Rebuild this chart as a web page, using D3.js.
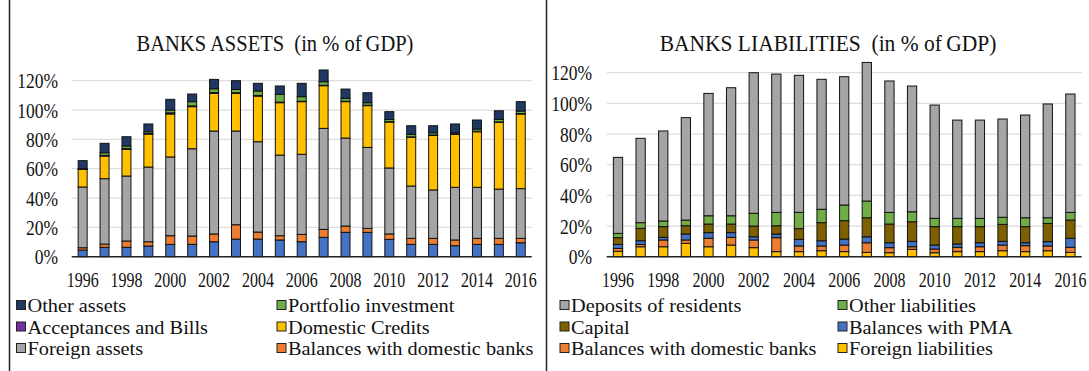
<!DOCTYPE html>
<html>
<head>
<meta charset="utf-8">
<script src="https://cdn.jsdelivr.net/npm/d3@7"></script>
<style>
  html, body { margin: 0; padding: 0; background: #fff; }
  svg { display: block; }
  text { font-family: "Liberation Serif", "Times New Roman", serif; fill: #111; }
  .title { white-space: pre; }
</style>
</head>
<body>
<svg id="chart" width="1089" height="371"></svg>
<script>
// ---- data -------------------------------------------------------------
const years = d3.range(1996, 2017);
const yearLabels = [1996, 1998, 2000, 2002, 2004, 2006, 2008, 2010, 2012, 2014, 2016];
const percentTicks = [0, 20, 40, 60, 80, 100, 120];

// Assets (% of GDP), stacked bottom to top
const cashAndPMA      = [4.5, 6.4, 6.4, 7.3, 8.4, 8.4, 10.2, 12.0, 12.0, 11.4, 10.2, 13.2, 16.6, 16.6, 11.8, 8.4, 8.4, 7.5, 8.4, 8.4, 9.5];
const balancesDomA    = [1.6, 2.2, 4.3, 2.9, 5.9, 5.7, 5.3, 9.8, 4.8, 2.9, 5.0, 5.4, 4.3, 2.7, 3.7, 4.1, 4.1, 3.9, 4.1, 4.1, 3.0];
const foreignAssets   = [41.4, 44.6, 44.3, 50.9, 53.7, 59.5, 70.2, 63.9, 61.6, 55.0, 54.6, 68.9, 60.0, 55.2, 45.0, 35.7, 33.0, 35.9, 34.8, 33.6, 33.9];
const domesticCredits = [12.0, 15.4, 18.2, 22.5, 29.3, 28.7, 25.7, 25.7, 31.1, 35.7, 35.9, 29.1, 24.8, 28.5, 31.3, 33.2, 37.2, 36.1, 37.9, 45.5, 50.9];
const acceptances     = [0.3, 0.5, 0.5, 0.4, 0.8, 0.5, 0.5, 0.4, 0.4, 0.4, 0.3, 0.3, 0.3, 0.3, 0.3, 0.3, 0.3, 0.3, 0.3, 0.3, 0.3];
const portfolioInv    = [0.2, 1.8, 1.8, 1.2, 1.9, 2.9, 2.6, 2.2, 3.1, 5.3, 3.1, 2.4, 2.0, 1.7, 1.5, 1.7, 1.5, 0.8, 1.5, 1.7, 1.7];
const otherAssets     = [5.5, 6.4, 6.3, 5.3, 7.3, 5.2, 6.4, 6.0, 5.2, 5.7, 9.1, 8.0, 6.3, 6.8, 5.3, 5.9, 4.8, 6.0, 6.2, 5.9, 6.4];

// Liabilities (% of GDP), stacked bottom to top
const foreignLiab     = [3.5, 6.5, 6.5, 8.7, 6.5, 7.6, 5.9, 3.3, 3.3, 3.9, 3.3, 2.8, 2.6, 4.8, 2.6, 3.3, 3.3, 3.9, 3.3, 3.9, 2.8];
const balancesDomL    = [1.9, 1.5, 4.4, 2.2, 5.5, 5.0, 5.0, 9.1, 3.7, 3.1, 4.3, 6.3, 3.3, 1.7, 2.4, 2.8, 3.2, 3.7, 3.9, 3.1, 3.3];
const balancesPMA     = [2.6, 2.4, 1.7, 3.9, 3.7, 3.1, 2.1, 2.4, 4.3, 3.4, 3.9, 3.9, 3.2, 3.5, 2.6, 2.2, 2.6, 2.4, 1.9, 2.8, 5.9];
const capital         = [4.4, 8.1, 7.0, 5.4, 5.6, 5.6, 7.0, 5.4, 7.0, 11.8, 12.0, 12.4, 12.2, 12.8, 12.0, 11.3, 10.5, 11.1, 10.5, 11.9, 11.9];
const otherLiab       = [2.8, 3.7, 3.7, 3.7, 5.4, 5.4, 8.3, 8.7, 10.6, 8.7, 10.2, 10.9, 7.6, 6.5, 5.4, 5.4, 5.4, 4.6, 5.8, 3.7, 5.0];
const depositsRes     = [49.6, 55.0, 58.7, 66.8, 79.8, 83.5, 91.7, 90.2, 89.4, 84.8, 83.7, 90.4, 85.7, 82.0, 73.9, 64.1, 64.1, 64.1, 67.0, 74.2, 77.2];

// ---- series definitions (stack order bottom -> top) ---------------------
const C = {
  navy: "#203864", green: "#70AD47", purple: "#7030A0", gold: "#FFC000",
  gray: "#A5A5A5", orange: "#ED7D31", blue: "#4472C4", brown: "#7F6000"
};

const assetSeries = [
  { key: "cash",  values: cashAndPMA,      color: C.blue },
  { key: "Balances with domestic banks", values: balancesDomA, color: C.orange },
  { key: "Foreign assets",        values: foreignAssets,   color: C.gray },
  { key: "Domestic Credits",      values: domesticCredits, color: C.gold },
  { key: "Acceptances and Bills", values: acceptances,     color: C.purple },
  { key: "Portfolio investment",  values: portfolioInv,    color: C.green },
  { key: "Other assets",          values: otherAssets,     color: C.navy }
];
const assetLegend = [
  ["Other assets", "Portfolio investment"],
  ["Acceptances and Bills", "Domestic Credits"],
  ["Foreign assets", "Balances with domestic banks"]
];

const liabSeries = [
  { key: "Foreign liabilities",          values: foreignLiab,  color: C.gold },
  { key: "Balances with domestic banks", values: balancesDomL, color: C.orange },
  { key: "Balances with PMA",            values: balancesPMA,  color: C.blue },
  { key: "Capital",                      values: capital,      color: C.brown },
  { key: "Other liabilities",            values: otherLiab,    color: C.green },
  { key: "Deposits of residents",        values: depositsRes,  color: C.gray }
];
const liabLegend = [
  ["Deposits of residents", "Other liabilities"],
  ["Capital", "Balances with PMA"],
  ["Balances with domestic banks", "Foreign liabilities"]
];

const svg = d3.select("#chart");

// ---- panel renderer -------------------------------------------------------
function drawPanel(opt) {
  const g = svg.append("g");
  const series = opt.series;
  const colorOf = new Map(series.map(s => [s.key, s.color]));

  const rows = years.map((yr, i) => {
    const r = { year: yr };
    series.forEach(s => { r[s.key] = s.values[i]; });
    return r;
  });
  const stacked = d3.stack().keys(series.map(s => s.key))(rows);

  const x = d3.scaleBand().domain(years).range([opt.x0, opt.x1]).paddingInner(0.59).paddingOuter(0.295);
  const y = d3.scaleLinear().domain([0, 120]).range([opt.yBottom, opt.yTop]);

  // gridlines
  g.append("g").selectAll("line").data(percentTicks.filter(t => t > 0)).join("line")
    .attr("x1", opt.x0).attr("x2", opt.x1)
    .attr("y1", d => y(d)).attr("y2", d => y(d))
    .attr("stroke", "#DDDDDD").attr("stroke-width", 1.2);

  // y axis labels (slightly tall serif digits)
  const yAxis = d3.axisLeft(y).tickValues(percentTicks).tickFormat(d => d + "%").tickSize(0).tickPadding(0);
  const ya = g.append("g").attr("transform", `translate(${opt.yLabelX},0)`).call(yAxis);
  ya.select(".domain").remove();
  ya.selectAll("text").attr("font-family", "Liberation Serif").attr("font-size", 17.5)
    .attr("fill", "#111").attr("dy", "0.34em").attr("transform", "scale(1,1.18)");

  // bars
  g.append("g").selectAll("g").data(stacked).join("g")
    .attr("fill", d => colorOf.get(d.key))
    .selectAll("rect").data(d => d).join("rect")
    .attr("x", d => x(d.data.year))
    .attr("width", x.bandwidth())
    .attr("y", d => y(d[1]))
    .attr("height", d => Math.max(0, y(d[0]) - y(d[1])))
    .attr("stroke", "#111").attr("stroke-width", 1);

  // x axis
  const xAxis = d3.axisBottom(x).tickValues(yearLabels).tickSize(0).tickPadding(0).tickFormat(d3.format("d"));
  const xa = g.append("g").attr("transform", `translate(0,${opt.yBottom})`).call(xAxis);
  xa.select(".domain").attr("stroke", "#222").attr("stroke-width", 1.5)
    .attr("d", `M${opt.x0},0H${opt.x1}`);
  xa.selectAll("text").attr("font-family", "Liberation Serif").attr("font-size", 16)
    .attr("fill", "#111").attr("y", 0).attr("dy", 0)
    .attr("transform", "translate(0,23.5) scale(1,1.3) translate(0,5)");

  // title
  g.append("text").attr("class", "title").attr("x", 0).attr("y", 0).attr("text-anchor", "middle")
    .attr("transform", `translate(${opt.titleX},51) scale(1,1.08)`)
    .attr("font-size", opt.titleSize).text(opt.title);

  // legend
  const leg = g.append("g");
  opt.legend.forEach((row, ri) => {
    row.forEach((name, ci) => {
      const lx = opt.legendX[ci], ly = 305.5 + ri * 21.5;
      leg.append("rect").attr("x", lx).attr("y", ly - 5).attr("width", 9).attr("height", 9)
        .attr("fill", colorOf.get(name)).attr("stroke", "#222").attr("stroke-width", 1);
      leg.append("text").attr("x", 0).attr("y", 0)
        .attr("transform", `translate(${lx + 11},${ly + 6.5}) scale(1.07,1)`)
        .attr("font-size", 19).text(name);
    });
  });
}

drawPanel({
  series: assetSeries, legend: assetLegend, title: "BANKS ASSETS  (in % of\u2009GDP)", titleX: 275, titleSize: 20.5,
  x0: 71.7, x1: 531.7, yBottom: 256.7, yTop: 80.7, yLabelX: 58, legendX: [16.5, 277]
});
drawPanel({
  series: liabSeries, legend: liabLegend, title: "BANKS LIABILITIES  (in % of\u2009GDP)", titleX: 828, titleSize: 21.5,
  x0: 606.7, x1: 1081.7, yBottom: 256.7, yTop: 72.7, yLabelX: 592, legendX: [560, 838]
});

// panel frames
svg.append("line").attr("x1", 546.5).attr("x2", 546.5).attr("y1", 0).attr("y2", 371)
  .attr("stroke", "#222").attr("stroke-width", 1.5);
svg.append("line").attr("x1", 9.5).attr("x2", 9.5).attr("y1", 0).attr("y2", 371)
  .attr("stroke", "#222").attr("stroke-width", 1.5);
</script>
</body>
</html>
